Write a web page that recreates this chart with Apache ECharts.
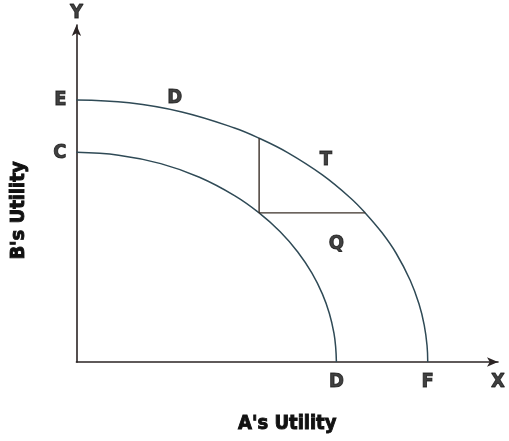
<!DOCTYPE html>
<html>
<head>
<meta charset="utf-8">
<script src="https://cdn.jsdelivr.net/npm/echarts@6/dist/echarts.min.js"></script>
<style>
  html, body { margin: 0; padding: 0; background: #fff; }
  #chart { width: 509px; height: 441px; }
</style>
</head>
<body>
<div id="chart"></div>
<script>
// utility possibility frontiers (A's utility, B's utility)
var outerCurve = [[0, 100], [15, 98.9], [30, 95.4], [45, 89.3], [52, 85.4], [60, 80], [70, 71.4], [78, 62.6], [82.2, 56.9], [87, 49.3], [91, 41.5], [95, 31.2], [97.5, 22.2], [99, 14.1], [99.8, 6.3], [100, 0]];
var innerCurve = [[0, 80], [12, 78.9], [24, 75.7], [35, 70.5], [45, 63.5], [52, 56.9], [58, 49.7], [63, 42], [67, 34], [70, 26], [72, 18.5], [73.3, 11], [73.8, 5.5], [74, 0]];
// the small triangle between the frontiers
var vertLine = [[52, 56.9], [52, 85.4]];
var horizLine = [[52, 56.9], [82.2, 56.9]];
// letters on the chart: [text, x, y]
var leftLabels = [['E', 0, 100], ['C', 0, 80]];
var bottomLabels = [['D', 74, 0], ['F', 100, 0], ['X', 120, 0]];
var freeLabels = [['D', 28, 101], ['T', 71, 77], ['Q', 74, 45]];
var topLabels = [['Y', 0, 128.6]];

var font = 'DejaVu Sans Condensed';
var ink = '#111';

var chart = echarts.init(document.getElementById('chart'));

// heavy poster-like lettering
var heavy = {
  fontFamily: font,
  fontWeight: 'bold',
  fontSize: 20,
  color: ink,
  textBorderColor: ink,
  textBorderWidth: 0.9
};

function labelSeries(list, pos, dist) {
  return {
    type: 'scatter',
    symbolSize: 0,
    silent: true,
    data: list.map(function(d) { return { value: [d[1], d[2]], name: d[0] }; }),
    label: Object.assign({ show: true, position: pos, distance: dist, formatter: '{b}' }, heavy)
  };
}

var lineStyleCurve = { color: '#2f4a56', width: 1.5 };
var lineStyleTri = { color: '#3b3029', width: 1.4 };
var axisLineStyle = { color: '#2b2424', width: 1.6 };

chart.setOption({
  animation: false,
  grid: { left: 75, right: 11, top: 25, bottom: 79 },
  xAxis: {
    type: 'value',
    min: 0,
    max: 120,
    name: "A's Utility",
    nameLocation: 'middle',
    nameGap: 52,
    nameTextStyle: Object.assign({}, heavy, { fontSize: 20 }),
    axisLine: { show: true, symbol: ['none', 'arrow'], symbolSize: [7, 11], lineStyle: axisLineStyle },
    axisTick: { show: false },
    axisLabel: { show: false },
    splitLine: { show: false }
  },
  yAxis: {
    type: 'value',
    min: 0,
    max: 128.6,
    name: "B's Utility",
    nameLocation: 'middle',
    nameGap: 48,
    nameRotate: 90,
    nameTextStyle: Object.assign({}, heavy, { fontSize: 20, padding: [0, 34, 0, 0] }),
    axisLine: { show: true, symbol: ['none', 'arrow'], symbolSize: [7, 11], lineStyle: axisLineStyle },
    axisTick: { show: false },
    axisLabel: { show: false },
    splitLine: { show: false }
  },
  series: [
    { type: 'line', data: outerCurve, smooth: 0.4, symbol: 'none', lineStyle: lineStyleCurve, silent: true },
    { type: 'line', data: innerCurve, smooth: 0.4, symbol: 'none', lineStyle: lineStyleCurve, silent: true },
    { type: 'line', data: vertLine, symbol: 'none', lineStyle: lineStyleTri, silent: true },
    { type: 'line', data: horizLine, symbol: 'none', lineStyle: lineStyleTri, silent: true },
    labelSeries(leftLabels, 'left', 10),
    labelSeries(bottomLabels, 'bottom', 10),
    labelSeries(freeLabels, 'inside', 0),
    labelSeries(topLabels, 'top', 2)
  ]
});
</script>
</body>
</html>
